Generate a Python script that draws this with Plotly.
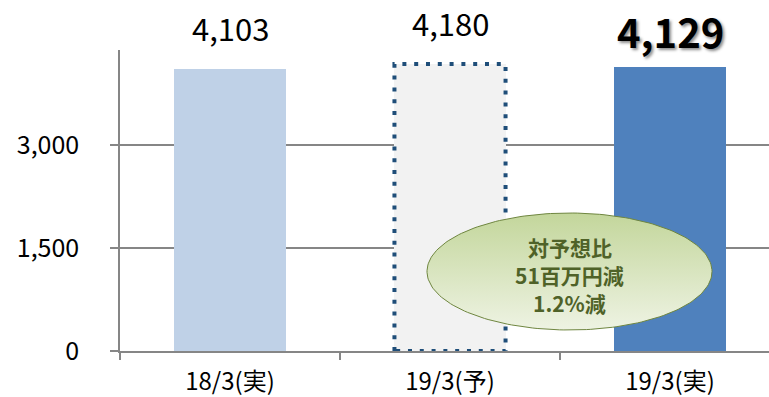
import numpy as np
import plotly.graph_objects as go

# Sales by period (million yen)
categories = ["18/3(実)", "19/3(予)", "19/3(実)"]
values = [4103, 4180, 4129]
value_labels = ["4,103", "4,180", "4,129"]
bar_colors = ["#bfd1e7", "#f2f2f2", "#4f81bd"]
y_ticks = [0, 1500, 3000]
callout_lines = ["対予想比", "51百万円減", "1.2%減"]

FONT = "Noto Sans CJK JP"
BAR_W = 0.505
W, H = 769, 397
M_L, M_T, M_B = 120, 50, 46
Y_MAX = 4383
X_RANGE = [-0.5, 2.45]

fig = go.Figure()

# bars
fig.add_trace(go.Bar(
    x=categories, y=values, width=BAR_W,
    marker=dict(color=bar_colors, line=dict(width=0)),
    hoverinfo="skip", showlegend=False,
))

# dotted outline around the forecast bar, on a linear twin of the main axes
fi = 1
bx0, bx1 = fi - BAR_W / 2, fi + BAR_W / 2
fig.add_trace(go.Scatter(
    x=[bx0, bx0, bx1, bx1, bx0], y=[0, values[fi], values[fi], 0, 0],
    xaxis="x2", yaxis="y2", mode="lines",
    line=dict(color="#1f4e79", width=4, dash="4px,7.8px"),
    hoverinfo="skip", showlegend=False,
))

# value labels above the bars
for i, (v, t) in enumerate(zip(values, value_labels)):
    if i == 2:
        fig.add_annotation(x=i, y=v, text=t, showarrow=False, xanchor="center",
                           yanchor="bottom", yshift=6, borderpad=0,
                           font=dict(family=FONT, size=40, color="#000000",
                                     weight="bold",
                                     shadow="2px 2px 3px rgba(0,0,0,0.45)"))
    else:
        fig.add_annotation(x=i, y=v, text=t, showarrow=False, xanchor="center",
                           yanchor="bottom", yshift=17,
                           font=dict(family=FONT, size=31, color="#000000"))

# callout ellipse in pixel space on its own overlay axis pair
cx, cy, rx, ry = 569.5, 271.5, 142.5, 58.5
t = np.linspace(0, 2 * np.pi, 200)
fig.add_trace(go.Scatter(
    x=cx + rx * np.cos(t), y=cy + ry * np.sin(t),
    xaxis="x3", yaxis="y3", mode="lines", fill="toself",
    line=dict(color="#6f8640", width=1),
    fillgradient=dict(type="vertical", start=cy - ry, stop=cy + ry,
                      colorscale=[[0, "#c3d69b"], [1, "#eef3e3"]]),
    hoverinfo="skip", showlegend=False,
))
LINE_GAP = 28
for k, line in enumerate(callout_lines):
    fig.add_annotation(x=cx, y=cy - 25 + k * LINE_GAP, xref="x3", yref="y3",
                       text=line, showarrow=False, borderpad=0,
                       font=dict(family=FONT, size=21, color="#4f6228",
                                 weight="bold"),
                       align="center")

fig.update_layout(
    width=W, height=H,
    margin=dict(l=M_L, r=0, t=M_T, b=M_B, pad=0, autoexpand=False),
    paper_bgcolor="white", plot_bgcolor="white",
    bargap=0,
    xaxis=dict(
        type="category", range=X_RANGE, automargin=False,
        showline=True, linecolor="#868686", linewidth=1.5,
        ticks="outside", tickson="boundaries", ticklen=7, tickcolor="#868686",
        tickwidth=1.5, showgrid=False,
        tickfont=dict(family=FONT, size=24, color="#000000"),
        ticklabelstandoff=8,
    ),
    yaxis=dict(
        range=[0, Y_MAX], tickvals=y_ticks, tickformat=",d", automargin=False,
        showline=True, linecolor="#868686", linewidth=1.5,
        ticks="outside", ticklen=8, tickcolor="#868686", tickwidth=1.5,
        showgrid=True, gridcolor="#868686", gridwidth=1.5,
        zeroline=False,
        tickfont=dict(family=FONT, size=25, color="#000000"),
        ticklabelstandoff=26,
    ),
    xaxis2=dict(type="linear", range=X_RANGE, overlaying="x", visible=False,
                fixedrange=True),
    yaxis2=dict(type="linear", range=[0, Y_MAX], overlaying="y", visible=False,
                fixedrange=True),
    xaxis3=dict(range=[M_L, W], overlaying="x", visible=False, fixedrange=True),
    yaxis3=dict(range=[H - M_B, M_T], overlaying="y", visible=False, fixedrange=True),
)

fig.write_html("out.html")
